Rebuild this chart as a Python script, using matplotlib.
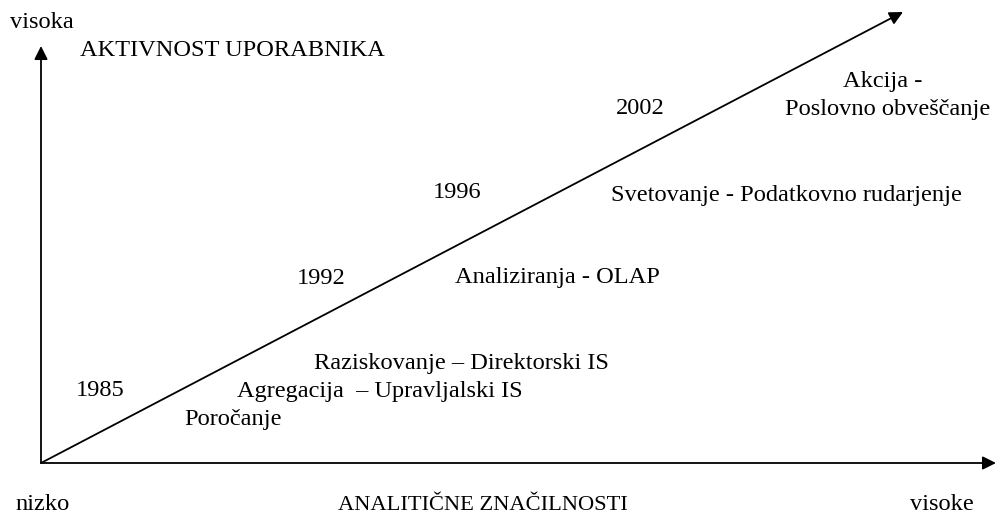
import matplotlib
matplotlib.use("Agg")
from matplotlib import pyplot as plt

plt.rcParams['font.family'] = ['Liberation Serif', 'DejaVu Serif']

# diagram labels
years = ["1985", "1992", "1996", "2002"]
year_xy = [(100, 391), (321, 278), (457, 193), (640, 108)]

stages = ["Poročanje", "Agregacija  – Upravljalski IS", "Raziskovanje – Direktorski IS",
          "Analiziranja - OLAP", "Svetovanje - Podatkovno rudarjenje", "Akcija - ", "Poslovno obveščanje"]
stage_xy = [(233, 420), (380, 391), (461, 363), (557, 278), (786, 195), (886, 82), (888, 110)]

axis_texts = ["visoka", "AKTIVNOST UPORABNIKA", "nizko", "ANALITIČNE ZNAČILNOSTI", "visoke"]
axis_xy = [(10, 22), (80, 51), (15, 505), (338, 505), (910, 505)]
axis_fs = [17.6, 17.6, 17.6, 16.2, 17.6]

origin = (41, 463)
y_end = (41, 46)
x_end = (996, 463)
diag_end = (903, 12)

fig = plt.figure(figsize=(9.97, 5.15), dpi=100)
ax = fig.add_axes([0, 0, 1, 1])
ax.set_xlim(0, 997)
ax.set_ylim(515, 0)
ax.axis("off")

arrow = dict(arrowstyle="-|>", color="black", lw=1.3, mutation_scale=20, shrinkA=0, shrinkB=0)
for end in [y_end, x_end, diag_end]:
    ax.annotate("", xy=end, xytext=origin, arrowprops=arrow)

fs = 17.6
for t, (x, y) in zip(years, year_xy):
    ax.text(x, y, t, fontsize=fs, ha="center", va="center")
for t, (x, y) in zip(stages, stage_xy):
    ax.text(x, y, t, fontsize=fs, ha="center", va="center")
for t, (x, y), f in zip(axis_texts, axis_xy, axis_fs):
    ax.text(x, y, t, fontsize=f, ha="left", va="center")

plt.savefig("out.png", dpi=100)
